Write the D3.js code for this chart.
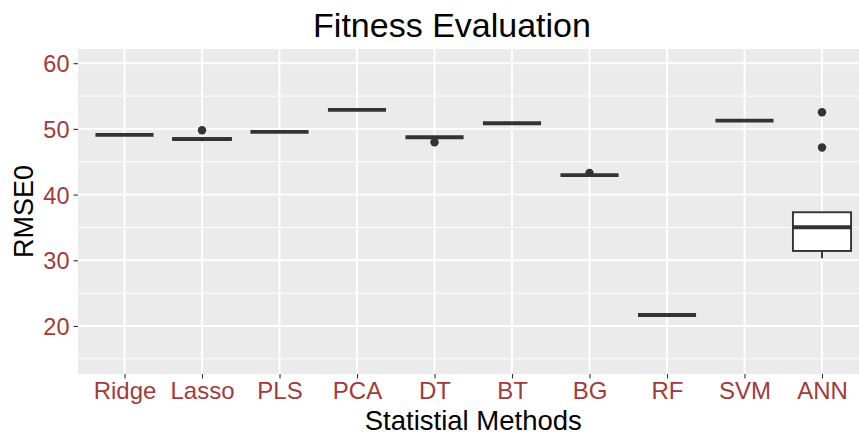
<!DOCTYPE html>
<html><head><meta charset="utf-8">
<script src="https://cdn.jsdelivr.net/npm/d3@7"></script>
<style>body{margin:0;background:#fff;} svg{display:block;} text{font-family:"Liberation Sans",Arial,sans-serif;}</style>
</head><body>
<svg id="c" width="859" height="436"></svg>
<script>
const categories = ["Ridge","Lasso","PLS","PCA","DT","BT","BG","RF","SVM","ANN"];
const whiskerLow = [49.08, 48.1, 49.55, 52.75, 48.73, 50.86, 42.95, 21.67, 51.26, 30.3];
const boxLow     = [49.08, 48.35, 49.55, 52.9, 48.73, 50.86, 42.95, 21.67, 51.26, 31.42];
const medians    = [49.08, 48.45, 49.55, 52.9, 48.73, 50.86, 42.95, 21.67, 51.26, 35.03];
const boxHigh    = [49.08, 48.6, 49.55, 52.9, 48.73, 50.86, 42.95, 21.67, 51.26, 37.31];
const whiskerHigh= [49.08, 48.6, 49.55, 52.9, 48.88, 50.86, 42.95, 21.67, 51.26, 37.31];
const outliers   = [[], [49.8], [], [], [47.97], [], [43.3], [], [], [47.17, 52.54]];
const yTicks = [20, 30, 40, 50, 60];
const yMinor = [15, 25, 35, 45, 55];

const svg = d3.select("#c");
const panel = {left: 78, right: 868.5, top: 49, bottom: 374};
const x = d3.scalePoint().domain(categories).range([panel.left, panel.right]).padding(0.6);
const y = d3.scaleLinear().domain([12.69, 62.16]).range([panel.bottom, panel.top]);
const labelColor = "#A33A3A";

svg.append("rect").attr("x", panel.left).attr("y", panel.top)
  .attr("width", panel.right - panel.left).attr("height", panel.bottom - panel.top)
  .attr("fill", "#EBEBEB");

const g = svg.append("g");
g.selectAll(".ymin").data(yMinor).join("line")
  .attr("x1", panel.left).attr("x2", panel.right)
  .attr("y1", d => y(d)).attr("y2", d => y(d))
  .attr("stroke", "#fff").attr("stroke-width", 0.9);
g.selectAll(".ymaj").data(yTicks).join("line")
  .attr("x1", panel.left).attr("x2", panel.right)
  .attr("y1", d => y(d)).attr("y2", d => y(d))
  .attr("stroke", "#fff").attr("stroke-width", 1.9);
g.selectAll(".xmaj").data(categories).join("line")
  .attr("x1", d => x(d)).attr("x2", d => x(d))
  .attr("y1", panel.top).attr("y2", panel.bottom)
  .attr("stroke", "#fff").attr("stroke-width", 1.9);

// axes
const yAxis = d3.axisLeft(y).tickValues(yTicks).tickSize(4.5).tickPadding(4);
const ya = svg.append("g").attr("transform", `translate(${panel.left},0)`).call(yAxis);
ya.select(".domain").remove();
ya.selectAll(".tick line").attr("stroke", "#333").attr("stroke-width", 1.1);
ya.selectAll(".tick text").attr("fill", labelColor).attr("font-size", 23.5)
  .attr("font-family", "Liberation Sans, Arial, sans-serif").attr("dy", "0.36em");

const xAxis = d3.axisBottom(x).tickSize(4.5).tickPadding(3);
const xa = svg.append("g").attr("transform", `translate(0,${panel.bottom})`).call(xAxis);
xa.select(".domain").remove();
xa.selectAll(".tick line").attr("stroke", "#333").attr("stroke-width", 1.1);
xa.selectAll(".tick text").attr("fill", labelColor).attr("font-size", 24)
  .attr("font-family", "Liberation Sans, Arial, sans-serif").attr("dy", "0.71em");

// boxes
const bw = x.step() * 0.75;
const data = categories.map((c, i) => ({c, wl: whiskerLow[i], q1: boxLow[i], med: medians[i], q3: boxHigh[i], wh: whiskerHigh[i], out: outliers[i]}));
const bg = svg.append("g");
data.forEach(d => {
  const cx = x(d.c);
  bg.append("line").attr("x1", cx).attr("x2", cx).attr("y1", y(d.q3)).attr("y2", y(d.wh))
    .attr("stroke", "#333").attr("stroke-width", 1.9);
  bg.append("line").attr("x1", cx).attr("x2", cx).attr("y1", y(d.q1)).attr("y2", y(d.wl))
    .attr("stroke", "#333").attr("stroke-width", 1.9);
  bg.append("rect").attr("x", cx - bw/2).attr("width", bw)
    .attr("y", y(d.q3)).attr("height", Math.max(0, y(d.q1) - y(d.q3)))
    .attr("fill", "#fff").attr("stroke", "#333").attr("stroke-width", 1.9);
  bg.append("line").attr("x1", cx - bw/2).attr("x2", cx + bw/2)
    .attr("y1", y(d.med)).attr("y2", y(d.med))
    .attr("stroke", "#333").attr("stroke-width", 3.8);
  d.out.forEach(o => {
    bg.append("circle").attr("cx", cx).attr("cy", y(o)).attr("r", 4.2).attr("fill", "#333");
  });
});

// titles
svg.append("text").attr("x", 452).attr("y", 36.5).attr("text-anchor", "middle")
  .attr("font-size", 34).attr("fill", "#000").text("Fitness Evaluation");
svg.append("text").attr("x", (panel.left + panel.right)/2).attr("y", 430).attr("text-anchor", "middle")
  .attr("font-size", 27.5).attr("fill", "#000").text("Statistial Methods");
svg.append("text").attr("transform", `translate(33,${(panel.top+panel.bottom)/2}) rotate(-90)`)
  .attr("text-anchor", "middle").attr("font-size", 27).attr("fill", "#000").text("RMSE0");
</script>
</body></html>
